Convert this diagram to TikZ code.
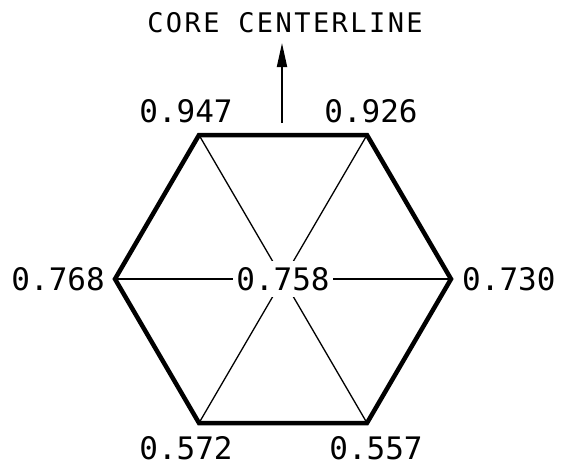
\documentclass[tikz,border=0pt]{standalone}
\usepackage{fontspec}
\setmonofont{DejaVu Sans Mono}
\usetikzlibrary{arrows.meta}
\begin{document}
\begin{tikzpicture}[x=1pt,y=-1pt,
  val/.style={font=\fontsize{31}{31}\selectfont\ttfamily, inner sep=1pt},
  hexedge/.style={line width=4.5pt, line join=miter},
  spoke/.style={line width=1.3pt}]
\useasboundingbox (0,0) rectangle (563,467);
\coordinate (TL) at (199,135);
\coordinate (TR) at (367,135);
\coordinate (L) at (115,279);
\coordinate (R) at (451,279);
\coordinate (BL) at (199,423);
\coordinate (BR) at (367,423);
\coordinate (C) at (283,279);
\draw[spoke] (TL) -- (BR);
\draw[spoke] (TR) -- (BL);
\draw[spoke] (L) -- (R);
\draw[hexedge] (TL) -- (TR) -- (R) -- (BR) -- (BL) -- (L) -- cycle;
\node[val, fill=white, inner xsep=3pt, inner ysep=6pt] (cval) at (C) {0.758};
\node[val] (v947) at (186,111) {0.947};
\node[val] (v926) at (371,111) {0.926};
\node[val, anchor=east] (v768) at (106,279) {0.768};
\node[val, anchor=west] (v730) at (461,279) {0.730};
\node[val] (v572) at (186,448) {0.572};
\node[val] (v557) at (376,448) {0.557};
\coordinate (arrbase) at (282,123);
\node[font=\fontsize{27}{27}\selectfont\ttfamily\addfontfeature{LetterSpace=9}, inner sep=0pt] (title) at (285,23) {CORE CENTERLINE};
\coordinate (arrtip) at (282,43);
\draw[line width=1.8pt, -{Triangle[length=24pt,width=10pt]}] (arrbase) -- (arrtip);
\end{tikzpicture}
\end{document}
